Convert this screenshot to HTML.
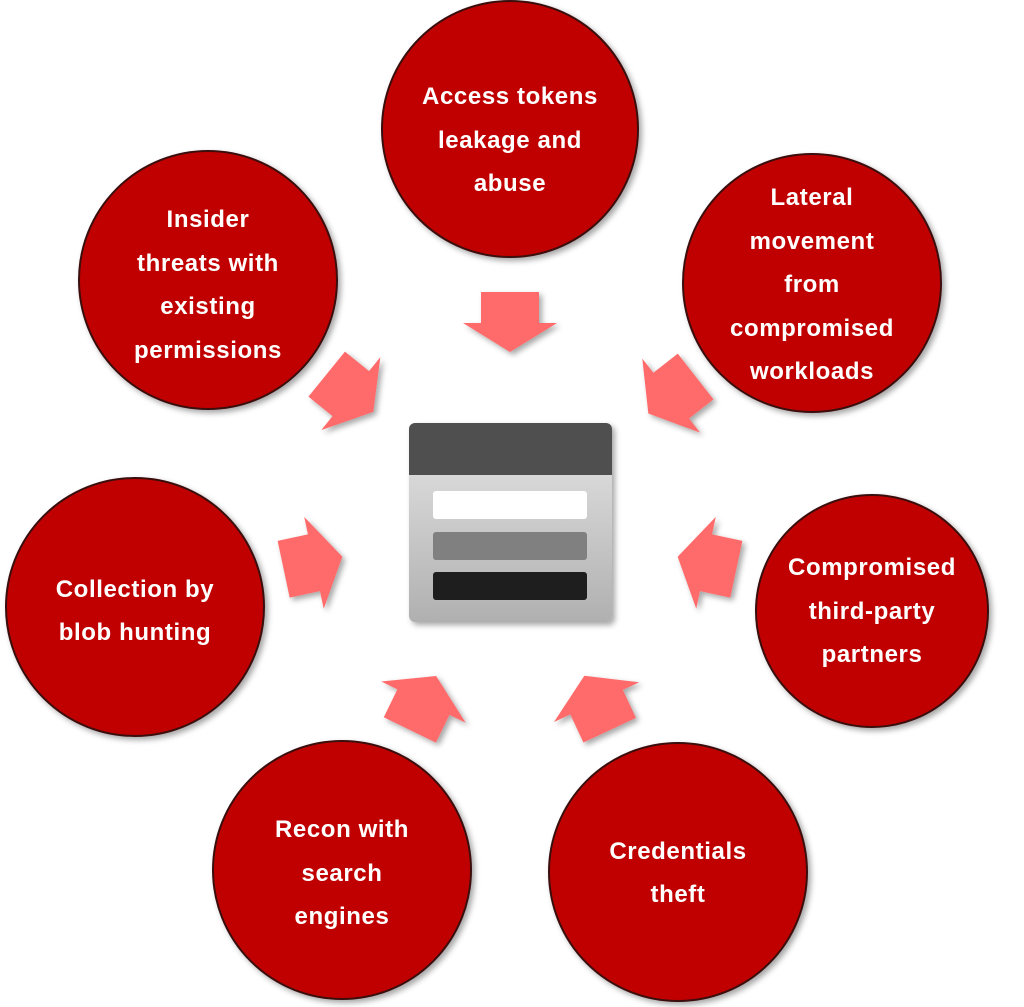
<!DOCTYPE html>
<html><head><meta charset="utf-8"><style>
html,body{margin:0;padding:0;background:#fff;}
svg{display:block}
text{font-family:"Liberation Sans",sans-serif;font-weight:bold;font-size:24px;letter-spacing:0.6px;fill:#fff;text-anchor:middle}
</style></head><body>
<svg width="1024" height="1007" viewBox="0 0 1024 1007" xmlns="http://www.w3.org/2000/svg">
<defs>
<filter id="sh" x="-20%" y="-20%" width="140%" height="140%"><feDropShadow dx="3" dy="3" stdDeviation="3" flood-color="#000" flood-opacity="0.35"/></filter>
<linearGradient id="g" x1="0" y1="0" x2="0" y2="1"><stop offset="0" stop-color="#e6e6e6"/><stop offset="1" stop-color="#b0b0b0"/></linearGradient>
<polygon id="ar" points="-29,-30 29,-30 29,1 47,1 0,30 -47,1 -29,1" fill="#ff6b6b"/>
</defs>
<g fill="#c00000" stroke="#3a1010" stroke-width="2" filter="url(#sh)">
<circle cx="510" cy="129" r="128"/>
<circle cx="812" cy="283" r="129"/>
<circle cx="208" cy="280" r="129"/>
<circle cx="872" cy="611" r="116"/>
<circle cx="135" cy="607" r="129"/>
<circle cx="342" cy="870" r="129"/>
<circle cx="678" cy="872" r="129"/>
</g>
<g filter="url(#sh)">
<use href="#ar" transform="translate(510,322)"/>
<use href="#ar" transform="translate(350,393) rotate(-51)"/>
<use href="#ar" transform="translate(672,395) rotate(52)"/>
<use href="#ar" transform="translate(313,563) rotate(-102)"/>
<use href="#ar" transform="translate(707,563) rotate(102)"/>
<use href="#ar" transform="translate(423,703) rotate(-154)"/>
<use href="#ar" transform="translate(597,703) rotate(155)"/>
</g>
<g filter="url(#sh)">
<rect x="409" y="423" width="203" height="199" rx="6" fill="url(#g)"/>
<path d="M409,475 V429 a6,6 0 0 1 6,-6 H606 a6,6 0 0 1 6,6 V475 Z" fill="#505050"/>
</g>
<rect x="433" y="491" width="154" height="28" rx="3" fill="#fff"/>
<rect x="433" y="532" width="154" height="28" rx="3" fill="#808080"/>
<rect x="433" y="572" width="154" height="28" rx="3" fill="#1e1e1e"/>
<text x="510" y="104">Access tokens</text>
<text x="510" y="148">leakage and</text>
<text x="510" y="191">abuse</text>
<text x="812" y="205">Lateral</text>
<text x="812" y="249">movement</text>
<text x="812" y="292">from</text>
<text x="812" y="336">compromised</text>
<text x="812" y="379">workloads</text>
<text x="208" y="227">Insider</text>
<text x="208" y="271">threats with</text>
<text x="208" y="314">existing</text>
<text x="208" y="358">permissions</text>
<text x="872" y="575">Compromised</text>
<text x="872" y="619">third-party</text>
<text x="872" y="662">partners</text>
<text x="135" y="597">Collection by</text>
<text x="135" y="640">blob hunting</text>
<text x="342" y="837">Recon with</text>
<text x="342" y="881">search</text>
<text x="342" y="924">engines</text>
<text x="678" y="859">Credentials</text>
<text x="678" y="902">theft</text>
</svg>
</body></html>
